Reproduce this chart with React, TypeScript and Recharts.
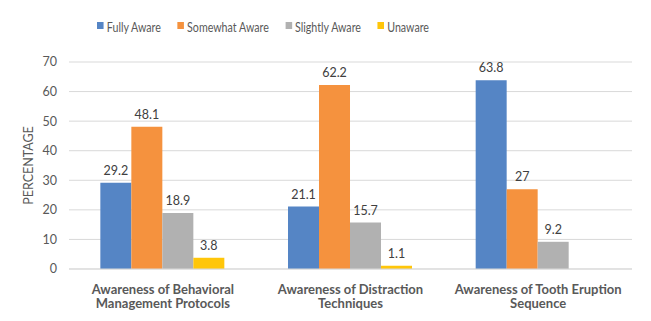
import { BarChart, Bar, XAxis, YAxis, CartesianGrid, Legend, LabelList } from 'recharts';

const categories = [
  'Awareness of Behavioral Management Protocols',
  'Awareness of Distraction Techniques',
  'Awareness of Tooth Eruption Sequence',
];
// how each category label is split over two lines
const categoryLines = [
  ['Awareness of Behavioral', 'Management Protocols'],
  ['Awareness of Distraction', 'Techniques'],
  ['Awareness of Tooth Eruption', 'Sequence'],
];
const fullyAware = [29.2, 21.1, 63.8];
const somewhatAware = [48.1, 62.2, 27];
const slightlyAware = [18.9, 15.7, 9.2];
const unaware = [3.8, 1.1, null];
const yTicks = [0, 10, 20, 30, 40, 50, 60, 70];

const series = [
  { key: 'fully', name: 'Fully Aware', color: '#5585C5', values: fullyAware },
  { key: 'somewhat', name: 'Somewhat Aware', color: '#F5923E', values: somewhatAware },
  { key: 'slightly', name: 'Slightly Aware', color: '#B1B1B1', values: slightlyAware },
  { key: 'unaware', name: 'Unaware', color: '#FFC60A', values: unaware },
];

const data = categories.map((name, i) => {
  const row: Record<string, any> = { name };
  series.forEach((s) => (row[s.key] = s.values[i]));
  return row;
});

const FONT = 'Lato, "Open Sans", sans-serif';
const TEXT = '#595959';

const CategoryTick = (props: any) => {
  const { x, y, index } = props;
  const lines = categoryLines[index] || [];
  return (
    <text x={x} y={y} textAnchor="middle" fill={TEXT} fontFamily={FONT} fontSize={13} fontWeight={700}>
      {lines.map((l, i) => (
        <tspan key={i} x={x} dy={i === 0 ? 16.5 : 14.5}>
          {l}
        </tspan>
      ))}
    </text>
  );
};

// the source font is narrow, so the legend row is squeezed sideways
const LegendContent = () => (
  <div style={{ paddingLeft: 97 }}>
    <div
      style={{
        display: 'flex',
        fontFamily: FONT,
        fontSize: 13,
        color: TEXT,
        transform: 'scaleX(0.82)',
        transformOrigin: 'left center',
      }}
    >
      {series.map((s) => (
        <div key={s.key} style={{ display: 'flex', alignItems: 'center', marginRight: 20 }}>
          <span style={{ width: 8, height: 7, background: s.color, marginRight: 4, marginTop: -4 }} />
          <span>{s.name}</span>
        </div>
      ))}
    </div>
  </div>
);

export default function App() {
  return (
    <div style={{ position: 'relative', width: 651, height: 321, margin: -8, background: '#fff' }}>
      <BarChart
        width={651}
        height={321}
        data={data}
        margin={{ top: 62, right: 19, bottom: 7, left: 0 }}
        barCategoryGap="16.7%"
        barGap={0}
      >
        <CartesianGrid vertical={false} stroke="#D9D9D9" />
        <XAxis
          dataKey="name"
          height={45}
          tickLine={false}
          axisLine={{ stroke: '#D9D9D9' }}
          tick={<CategoryTick />}
          interval={0}
        />
        <YAxis
          width={69}
          domain={[0, 70]}
          ticks={yTicks}
          axisLine={false}
          tickLine={false}
          tickMargin={6}
          tick={{ fill: TEXT, fontFamily: FONT, fontSize: 12.5 }}
          label={{
            value: 'PERCENTAGE',
            angle: -90,
            position: 'center',
            dx: -5.5,
            fill: TEXT,
            fontFamily: FONT,
            fontSize: 12.5,
          }}
        />
        <Legend
          verticalAlign="middle"
          layout="horizontal"
          wrapperStyle={{ top: 19, left: 0 }}
          content={<LegendContent />}
        />
        {series.map((s) => (
          <Bar key={s.key} dataKey={s.key} name={s.name} fill={s.color} isAnimationActive={false}>
            <LabelList dataKey={s.key} position="top" offset={8} fill="#404040" fontFamily={FONT} fontSize={12.5} />
          </Bar>
        ))}
      </BarChart>
      <div
        style={{
          position: 'absolute',
          inset: 0,
          border: '2px solid #1E1E1E',
          pointerEvents: 'none',
        }}
      />
    </div>
  );
}
